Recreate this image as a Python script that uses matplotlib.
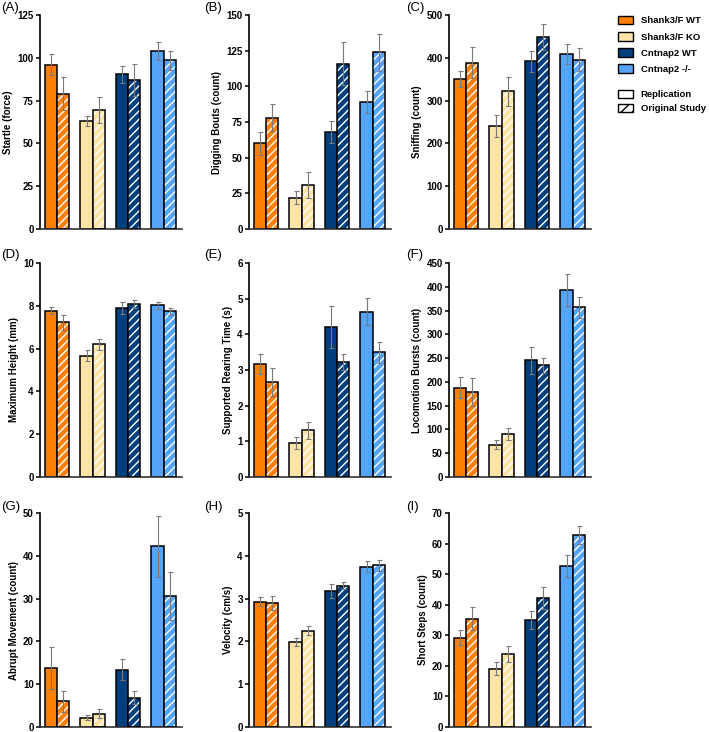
import numpy as np
import matplotlib
matplotlib.use('Agg')
import matplotlib.pyplot as plt
from matplotlib.patches import Patch

plt.rcParams['font.family'] = ['Liberation Sans', 'DejaVu Sans']
plt.rcParams['hatch.linewidth'] = 1.0

groups = ['Shank3/F WT', 'Shank3/F KO', 'Cntnap2 WT', 'Cntnap2 -/-']
colors = ['#FF7F00', '#FCE3A6', '#003F7D', '#55A4F7']
letters = ['(A)', '(B)', '(C)', '(D)', '(E)', '(F)', '(G)', '(H)', '(I)']
ylabels = ['Startle (force)', 'Digging Bouts (count)', 'Sniffing (count)',
           'Maximum Height (mm)', 'Supported Rearing Time (s)', 'Locomotion Bursts (count)',
           'Abrupt Movement (count)', 'Velocity (cm/s)', 'Short Steps (count)']
ymax = [125, 150, 500, 10, 6, 450, 50, 5, 70]
ystep = [25, 25, 100, 2, 1, 50, 10, 1, 10]

# replication study: means and error
rep = [[96, 63, 90.5, 104],
       [60, 22, 68, 89],
       [350, 240, 392, 409],
       [7.78, 5.66, 7.89, 8.02],
       [3.17, 0.95, 4.21, 4.64],
       [188, 68, 245, 393],
       [13.8, 2.2, 13.4, 42.2],
       [2.93, 1.98, 3.18, 3.75],
       [29.2, 19.1, 35, 52.6]]
rep_err = [[6, 3, 5, 5],
           [8, 4.5, 8, 7.5],
           [18, 26, 25, 24],
           [0.16, 0.26, 0.27, 0.18],
           [0.29, 0.16, 0.58, 0.37],
           [22, 10, 28, 34],
           [5, 0.5, 2.5, 7.2],
           [0.1, 0.09, 0.16, 0.13],
           [2.4, 2, 2.8, 3.6]]
# original study
orig = [[79, 69.5, 87, 98.5],
        [78, 31, 116, 124],
        [389, 322, 448, 396],
        [7.23, 6.2, 8.08, 7.75],
        [2.67, 1.31, 3.23, 3.5],
        [179, 91, 235, 357],
        [6.0, 3.1, 6.8, 30.6],
        [2.89, 2.25, 3.3, 3.78],
        [35.4, 23.9, 42.3, 62.8]]
orig_err = [[9.5, 7.5, 9.5, 5.5],
            [9.5, 9, 15, 13],
            [36, 34, 30, 27],
            [0.35, 0.25, 0.19, 0.17],
            [0.39, 0.24, 0.23, 0.29],
            [30, 13, 16, 22],
            [2.4, 1, 1.5, 5.7],
            [0.16, 0.1, 0.08, 0.13],
            [3.7, 2.5, 3.6, 3.1]]

W, H = 709, 732
fig = plt.figure(figsize=(W/100, H/100), dpi=100)

col_left = [40, 249, 449]
row_top = [15, 263, 513]
aw, ah = 142, 214
label_x = [1, 204, 406]
label_y = [8, 255, 507]

x = np.arange(4)
bw = 0.34
for k in range(9):
    r, c = divmod(k, 3)
    ax = fig.add_axes([col_left[c]/W, 1 - (row_top[r] + ah)/H, aw/W, ah/H])
    # replication bars
    ax.bar(x - bw/2, rep[k], bw, color=colors, edgecolor='black', linewidth=1.1, zorder=2)
    # original study bars: white hatch then black outline
    ax.bar(x + bw/2, orig[k], bw, color=colors, edgecolor='white', linewidth=0, hatch='////', zorder=2)
    ax.bar(x + bw/2, orig[k], bw, fill=False, edgecolor='black', linewidth=1.1, zorder=3)
    ax.errorbar(x - bw/2, rep[k], yerr=rep_err[k], fmt='none', ecolor='#7a7a7a',
                elinewidth=0.8, capsize=1.8, capthick=0.8, zorder=4)
    ax.errorbar(x + bw/2, orig[k], yerr=orig_err[k], fmt='none', ecolor='#7a7a7a',
                elinewidth=0.8, capsize=1.8, capthick=0.8, zorder=4)
    ax.set_xlim(-0.48, 3.52)
    ax.set_ylim(0, ymax[k])
    ax.set_yticks(np.arange(0, ymax[k] + ystep[k]/2, ystep[k]))
    ax.set_xticks([])
    ax.spines['top'].set_visible(False)
    ax.spines['right'].set_visible(False)
    ax.spines['left'].set_linewidth(1.2)
    ax.spines['bottom'].set_linewidth(1.2)
    ax.spines['bottom'].set_color('#333333')
    ax.tick_params(axis='y', length=3, width=1.1, pad=1.5, labelsize=7)
    for t in ax.get_yticklabels():
        t.set_fontweight('bold')
    ax.set_ylabel(ylabels[k], fontsize=7, fontweight='bold', labelpad=3)
    fig.text(label_x[c]/W, 1 - label_y[r]/H, letters[k], fontsize=9.5, va='center', ha='left')

# legends
h1 = [Patch(facecolor=col, edgecolor='black', linewidth=1.0, label=g) for g, col in zip(groups, colors)]
h2 = [Patch(facecolor='white', edgecolor='black', linewidth=1.0, label='Replication'),
      Patch(facecolor='white', edgecolor='black', linewidth=1.0, hatch='///', label='Original Study')]
kw = dict(frameon=False, handlelength=1.6, handleheight=1.0, handletextpad=0.8,
          prop={'weight': 'bold', 'size': 6.8}, borderaxespad=0, borderpad=0)
leg1 = fig.legend(handles=h1, loc='upper left', bbox_to_anchor=(618/W, 1 - 16/H),
                  labelspacing=0.7, **kw)
leg2 = fig.legend(handles=h2, loc='upper left', bbox_to_anchor=(618/W, 1 - 90/H),
                  labelspacing=0.45, **kw)

fig.savefig('out.png', dpi=100)
